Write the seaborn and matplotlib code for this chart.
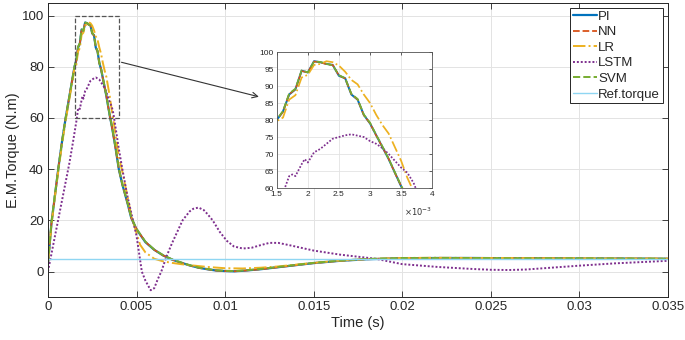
import matplotlib
matplotlib.use('Agg')
import numpy as np
import pandas as pd
import matplotlib.pyplot as plt
import seaborn as sns

# values (time in s, torque in N.m)
t_pi = [0, 0.0001, 0.0002, 0.0004, 0.0006, 0.0008, 0.001, 0.0012, 0.0014,
        0.0015, 0.0016, 0.0017, 0.0018, 0.0019, 0.002, 0.0021, 0.0022, 0.0023, 0.0024, 0.0025,
        0.0026, 0.0027, 0.0028, 0.0029, 0.003, 0.0031, 0.0032, 0.0033, 0.0034, 0.0035,
        0.0036, 0.0038, 0.004, 0.0042, 0.0045, 0.0047, 0.005, 0.0055, 0.006, 0.0065,
        0.007, 0.0075, 0.008, 0.0085, 0.009, 0.0095, 0.01, 0.0105, 0.011, 0.012,
        0.013, 0.014, 0.015, 0.0165, 0.018, 0.019, 0.02, 0.022, 0.024, 0.026,
        0.028, 0.03, 0.032, 0.035]
pi_torque = [3, 11, 19, 30, 41, 51, 60, 68, 76,
             80, 82.5, 87.5, 89, 94.5, 94, 97.3, 97, 96.5, 96.2, 93,
             92.3, 87.5, 86, 81.5, 79, 75.5, 72, 68.5, 64.5, 60.5,
             57, 49, 40, 34, 26.5, 21, 16.5, 11.5, 8.5, 6.3,
             4.7, 3.5, 2.4, 1.5, 0.9, 0.4, 0.2, 0.1, 0.3, 0.9,
             1.7, 2.5, 3.3, 4.2, 4.8, 5.0, 5.2, 5.3, 5.3, 5.2,
             5.2, 5.1, 5.1, 5.0]
nn_torque = [3, 11, 19, 30, 41, 51, 60, 68, 76,
             80, 82.4, 87.6, 89, 94.4, 94, 97.2, 97, 96.4, 96.2, 93.1,
             92.2, 87.6, 86, 81.4, 79, 75.4, 72, 68.6, 64.4, 60.6,
             57, 49, 40.2, 34, 26.6, 21, 16.6, 11.6, 8.5, 6.3,
             4.7, 3.5, 2.4, 1.5, 0.9, 0.4, 0.2, 0.1, 0.3, 0.9,
             1.7, 2.5, 3.3, 4.2, 4.8, 5.0, 5.2, 5.3, 5.3, 5.2,
             5.2, 5.1, 5.1, 5.0]
svm_torque = [3, 11, 19.5, 30.5, 41, 51, 60, 68, 76,
              80.2, 82.6, 87.8, 89.2, 94.6, 94, 97.2, 97.1, 96.5, 96.1, 93.2,
              92.3, 87.7, 86.2, 81.6, 79.2, 75.6, 72.2, 68.6, 64.6, 60.7,
              57.2, 49.2, 40.3, 34.2, 26.7, 21.2, 16.7, 11.7, 8.6, 6.4,
              4.8, 3.6, 2.5, 1.6, 1.0, 0.5, 0.3, 0.2, 0.4, 1.0,
              1.8, 2.6, 3.4, 4.3, 4.9, 5.1, 5.3, 5.3, 5.3, 5.2,
              5.2, 5.2, 5.1, 5.0]

t_lr = [0, 0.0001, 0.0002, 0.0004, 0.0006, 0.0008, 0.001, 0.0012, 0.0014,
        0.0015, 0.0016, 0.0017, 0.0018, 0.0019, 0.002, 0.0021, 0.0022, 0.0023, 0.0024, 0.0025,
        0.0026, 0.0027, 0.0028, 0.0029, 0.003, 0.0031, 0.0032, 0.0033, 0.0034, 0.0035,
        0.0036, 0.0037, 0.0038, 0.004, 0.0042, 0.0045, 0.0047, 0.005, 0.0052, 0.0055,
        0.006, 0.0065, 0.007, 0.0075, 0.008, 0.009, 0.01, 0.011, 0.012, 0.013,
        0.014, 0.015, 0.0165, 0.018, 0.019, 0.02, 0.022, 0.024, 0.026, 0.028,
        0.03, 0.032, 0.035]
lr_torque = [3, 10.5, 18.5, 29.5, 40, 50, 59, 67, 75,
             79.7, 80.7, 86, 87.3, 92.5, 93.3, 96.2, 96.5, 97.3, 97, 96,
             94.2, 91.8, 90.5, 87.5, 85, 81.5, 78.5, 76, 72, 68,
             63, 59, 54, 45, 39, 29, 22, 15, 10.5, 7.5,
             5.0, 4.0, 3.4, 2.9, 2.5, 1.8, 1.3, 1.2, 1.5, 2.0,
             2.7, 3.4, 4.3, 4.9, 5.1, 5.3, 5.4, 5.3, 5.3, 5.2,
             5.2, 5.1, 5.1]

t_lstm = [0, 0.0002, 0.0004, 0.0006, 0.0008, 0.001, 0.0012, 0.0014, 0.0016, 0.0017,
          0.00175, 0.0018, 0.0019, 0.00195, 0.002, 0.0021, 0.0022, 0.0023, 0.0024, 0.0025,
          0.0026, 0.0027, 0.0028, 0.0029, 0.003, 0.0031, 0.0032, 0.0033, 0.0034, 0.0035,
          0.0036, 0.0037, 0.0038, 0.004, 0.0042, 0.0045, 0.0048, 0.005, 0.0053, 0.0055,
          0.0058, 0.006, 0.0062, 0.0064, 0.0067, 0.007, 0.0073, 0.0076, 0.008, 0.0082,
          0.0085, 0.0088, 0.009, 0.0093, 0.0097, 0.0101, 0.0105, 0.011, 0.0115, 0.012,
          0.0125, 0.013, 0.0137, 0.015, 0.0165, 0.0185, 0.02, 0.022, 0.024, 0.025,
          0.026, 0.027, 0.028, 0.03, 0.032, 0.035]
lstm_torque = [0, 7, 14, 21, 28, 35, 42, 50, 58.5, 63.5,
               64, 63.5, 67, 68.5, 67.5, 70.5, 71.5, 73, 74.5, 75,
               75.5, 75.8, 75.4, 75, 73.8, 73, 71.7, 70, 68, 66,
               64.5, 61.5, 57, 48, 40, 29, 20, 14, 0, -3.5,
               -7.3, -6.5, -3, 0, 6, 11, 15.5, 20, 23.5, 24.5,
               25, 24, 22.5, 20, 15.5, 12, 9.8, 9, 9.3, 10.3,
               11.2, 11.2, 10.2, 8.2, 6.6, 5, 2.9, 1.8, 1.0, 0.7,
               0.6, 0.8, 1.3, 2.3, 3.2, 4.2]

t_ref = [0, 0.035]
ref_torque = [5, 5]

series = [
    ('PI', t_pi, pi_torque, '#0072BD', '-', 1.6),
    ('NN', t_pi, nn_torque, '#D95319', '--', 1.3),
    ('LR', t_lr, lr_torque, '#EDB120', '-.', 1.4),
    ('LSTM', t_lstm, lstm_torque, '#7E2F8E', (0, (1, 1)), 1.4),
    ('SVM', t_pi, svm_torque, '#77AC30', '--', 1.4),
    ('Ref.torque', t_ref, ref_torque, '#8fd6f2', '-', 1.0),
]

sns.set_style('whitegrid')
plt.rcParams['font.family'] = ['Liberation Sans', 'DejaVu Sans']
plt.rcParams['xtick.direction'] = 'in'
plt.rcParams['ytick.direction'] = 'in'

fig = plt.figure(figsize=(6.85, 3.4), dpi=100)
ax = fig.add_axes([0.070, 0.126, 0.905, 0.866])

for name, t, y, c, ls, lw in series:
    df = pd.DataFrame({'t': t, 'y': y})
    sns.lineplot(data=df, x='t', y='y', ax=ax, color=c, linestyle=ls,
                 linewidth=lw, label=name, estimator=None, sort=False)

ax.set_xlim(0, 0.035)
ax.set_ylim(-10, 105)
ax.set_xticks([0, 0.005, 0.01, 0.015, 0.02, 0.025, 0.03, 0.035])
ax.set_xticklabels(['0', '0.005', '0.01', '0.015', '0.02', '0.025', '0.03', '0.035'])
ax.set_yticks([0, 20, 40, 60, 80, 100])
ax.tick_params(labelsize=9.5, length=4, width=0.6, color='#262626',
               top=True, right=True, bottom=True, left=True, pad=3)
ax.grid(color='#e3e3e3', linewidth=0.7)
for s in ax.spines.values():
    s.set_color('#262626')
    s.set_linewidth(0.7)
ax.set_xlabel('Time (s)', fontsize=10.5, labelpad=2)
ax.set_ylabel('E.M.Torque (N.m)', fontsize=10.5, labelpad=1)

leg = ax.legend(loc='upper right', fontsize=9.5, frameon=True, fancybox=False,
                edgecolor='#262626', framealpha=1, handlelength=1.8,
                handletextpad=0.1, labelspacing=0.25, borderpad=0.2,
                borderaxespad=0.4)
leg.get_frame().set_linewidth(0.7)

# zoom box and arrow
ax.plot([0.0015, 0.004, 0.004, 0.0015, 0.0015], [60, 60, 100, 100, 60],
        color='#555555', linestyle='--', linewidth=0.9)
ax.annotate('', xy=(0.01206, 68), xytext=(0.004, 82),
            arrowprops=dict(arrowstyle='->', color='#333333', lw=0.8))

# inset
axin = fig.add_axes([0.404, 0.447, 0.227, 0.40])
for name, t, y, c, ls, lw in series[:-1]:
    df = pd.DataFrame({'t': np.array(t) * 1000, 'y': y})
    sns.lineplot(data=df, x='t', y='y', ax=axin, color=c, linestyle=ls,
                 linewidth=lw * 0.9, estimator=None, sort=False, legend=False)
axin.set_xlim(1.5, 4)
axin.set_ylim(60, 100)
axin.set_xticks([1.5, 2, 2.5, 3, 3.5, 4])
axin.set_xticklabels(['1.5', '2', '2.5', '3', '3.5', '4'])
axin.set_yticks(range(60, 101, 5))
axin.tick_params(labelsize=6, length=2, width=0.5, pad=2, top=True, right=True)
axin.set_xlabel('')
axin.set_ylabel('')
axin.grid(color='#e3e3e3', linewidth=0.6)
for s in axin.spines.values():
    s.set_color('#555555')
    s.set_linewidth(0.6)
axin.text(1.0, -0.13, r'$\times 10^{-3}$', transform=axin.transAxes,
          ha='right', va='top', fontsize=6, color='#333333')

fig.savefig('out.png', dpi=100)
